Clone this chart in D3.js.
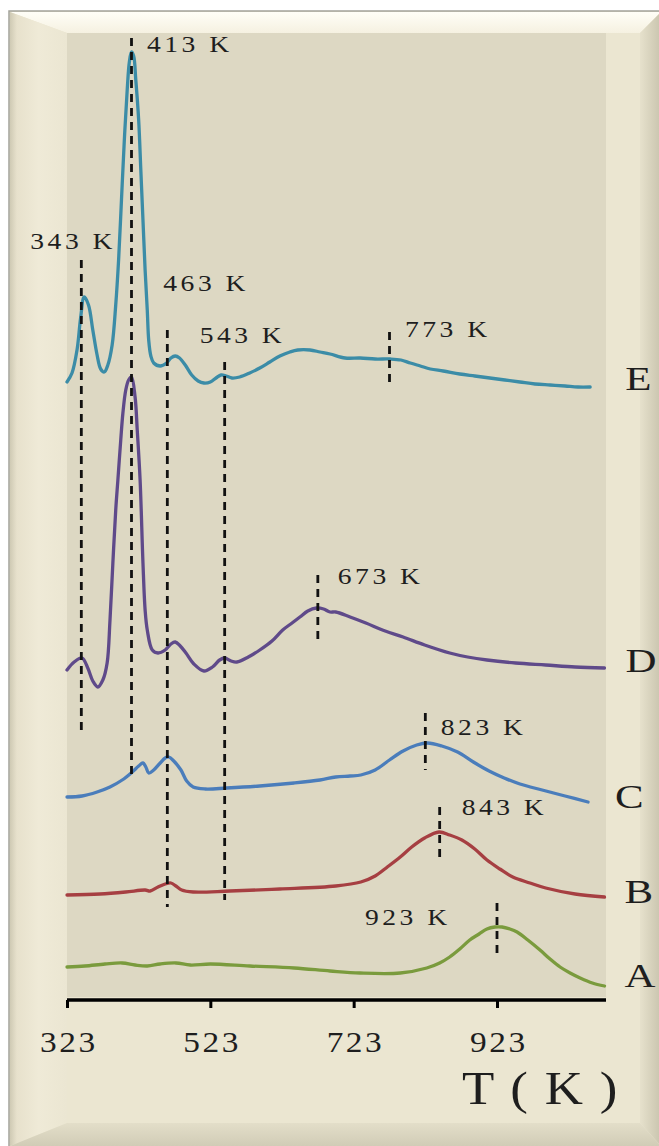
<!DOCTYPE html>
<html>
<head>
<meta charset="utf-8">
<script src="https://cdn.jsdelivr.net/npm/d3@7/dist/d3.min.js"></script>
<style>
  html, body { margin: 0; padding: 0; background: #ffffff; }
  svg { display: block; }
</style>
</head>
<body>
<svg id="chart" width="659" height="1146"></svg>
<script>
// TPD profiles of samples A–E, stacked with vertical offsets (signal in a.u.)
const xTicks = [323, 523, 723, 923];

const seriesA = [[323,1.65],[348,1.7],[376,1.8],[400,1.85],[418,1.75],[435,1.7],[453,1.8],[475,1.85],[495,1.75],[523,1.8],[578,1.7],[640,1.6],[690,1.45],[732,1.35],[788,1.35],[825,1.6],[843,1.85],[857,2.15],[871,2.55],[885,3.0],[898,3.3],[909,3.55],[920,3.65],[930,3.65],[941,3.55],[951,3.4],[966,3.0],[983,2.5],[997,2.05],[1011,1.65],[1025,1.35],[1039,1.1],[1056,0.85],[1073,0.7]];

const seriesB = [[323,5.25],[369,5.3],[405,5.4],[432,5.5],[439,5.45],[450,5.65],[460,5.8],[468,5.85],[475,5.7],[483,5.5],[499,5.4],[550,5.45],[620,5.55],[698,5.7],[733,5.9],[753,6.2],[770,6.65],[788,7.15],[804,7.65],[822,8.1],[842,8.4],[857,8.25],[874,8.0],[892,7.55],[909,7.0],[927,6.55],[945,6.15],[969,5.85],[991,5.6],[1032,5.3],[1073,5.15]];

const seriesC = [[323,10.15],[344,10.2],[365,10.4],[383,10.65],[400,11.0],[414,11.4],[423,11.7],[429,11.85],[433,11.65],[437,11.35],[444,11.5],[453,11.85],[460,12.1],[465,12.15],[472,11.95],[482,11.5],[490,10.95],[499,10.65],[516,10.55],[546,10.6],[592,10.7],[640,10.85],[676,11.0],[698,11.15],[718,11.2],[733,11.25],[753,11.5],[773,12.0],[792,12.45],[811,12.75],[826,12.85],[846,12.7],[868,12.4],[890,11.9],[912,11.45],[933,11.1],[955,10.8],[986,10.5],[1018,10.2],[1050,9.9]];

const seriesD = [[323,16.5],[333,16.9],[344,17.1],[352,16.6],[359,15.95],[366,15.65],[373,16.0],[379,16.85],[383,19.0],[387,21.85],[391,24.5],[394,26.0],[398,28.0],[401,29.35],[405,30.5],[409,31.0],[413,31.15],[418,30.15],[421,28.5],[425,26.0],[429,21.85],[432,19.5],[435,18.5],[442,17.5],[450,17.35],[460,17.5],[468,17.8],[474,17.9],[481,17.7],[489,17.35],[500,16.8],[514,16.45],[526,16.65],[536,17.0],[543,17.1],[552,16.95],[560,16.9],[576,17.15],[592,17.5],[609,17.95],[624,18.5],[637,18.85],[648,19.15],[659,19.45],[671,19.6],[681,19.55],[690,19.4],[698,19.4],[718,19.15],[740,18.85],[767,18.45],[792,18.15],[822,17.75],[857,17.35],[882,17.15],[909,17.0],[949,16.85],[991,16.75],[1032,16.65],[1073,16.6]];

const seriesE = [[323,30.9],[330,31.35],[337,32.5],[342,34.1],[347,35.15],[353,34.75],[359,33.5],[365,32.25],[370,31.55],[375,31.4],[380,31.75],[386,32.75],[391,34.75],[395,37.0],[399,40.0],[403,43.0],[407,45.5],[410,46.9],[413,47.4],[416,47.2],[419,46.0],[423,44.0],[426,41.5],[429,39.0],[432,36.5],[435,34.5],[437,33.0],[440,32.2],[444,31.85],[453,31.7],[462,31.85],[468,32.1],[474,32.2],[480,32.1],[488,31.75],[497,31.25],[506,30.95],[514,30.85],[523,30.9],[531,31.1],[538,31.25],[545,31.2],[553,31.1],[564,31.15],[578,31.35],[592,31.6],[606,31.9],[620,32.2],[634,32.4],[645,32.5],[662,32.5],[676,32.4],[690,32.3],[711,32.1],[732,32.1],[753,32.05],[774,32.05],[789,32.0],[802,31.85],[816,31.7],[830,31.55],[848,31.45],[871,31.3],[892,31.2],[913,31.1],[934,31.0],[955,30.9],[976,30.8],[997,30.75],[1018,30.7],[1036,30.65],[1053,30.65]];

const seriesNames = ["A", "B", "C", "D", "E"];

// Peak temperatures (K) marked by dashed lines, with the signal span each line covers
const peakTemps  = [343, 413, 463, 543, 773, 673, 823, 843, 923];
const peakTop    = [37.0, 48.1, 33.5, 31.9, 33.4, 21.25, 14.35, 9.65, 4.85];
const peakBottom = [13.35, 11.1, 4.65, 5.0, 30.65, 17.85, 11.5, 7.0, 2.25];

const seriesData = { A: seriesA, B: seriesB, C: seriesC, D: seriesD, E: seriesE };
const colors = { A: "#7a9b3d", B: "#a63f42", C: "#4a7dbb", D: "#5f4a8a", E: "#3b8ca7" };

const svg = d3.select("#chart");
const defs = svg.append("defs");

function gradient(id, x2, y2, stops) {
  const g = defs.append("linearGradient").attr("id", id)
    .attr("x1", 0).attr("y1", 0).attr("x2", x2).attr("y2", y2);
  stops.forEach(([o, c]) => g.append("stop").attr("offset", o).attr("stop-color", c));
}
gradient("gTop", 0, 1, [[0, "#fffef7"], [1, "#f5f1e1"]]);
gradient("gLeft", 1, 0, [[0, "#cfcab4"], [0.12, "#e7e1cc"], [0.5, "#efead7"], [1, "#ebe6d2"]]);
gradient("gRight", 1, 0, [[0, "#e6e1cc"], [1, "#c9c4ae"]]);
gradient("gBottom", 0, 1, [[0, "#e3dec9"], [1, "#d1ccb6"]]);

// Beveled frame
const frame = svg.append("g");
frame.append("rect").attr("x", 9).attr("y", 11).attr("width", 660).attr("height", 1150)
  .attr("fill", "#ebe6d1").attr("stroke", "#a3a39b").attr("stroke-width", 1.5);
const poly = (pts, fill) => frame.append("polygon").attr("points", pts.map(p => p.join(",")).join(" ")).attr("fill", fill);
poly([[10,12],[661,12],[640,33],[67,33]], "url(#gTop)");
poly([[10,12],[67,33],[67,1123],[10,1146]], "url(#gLeft)");
poly([[640,33],[661,12],[661,1146],[640,1123]], "url(#gRight)");
poly([[10,1146],[67,1123],[640,1123],[661,1146]], "url(#gBottom)");

// Plot panel
const panel = { left: 67, right: 606, top: 33, bottom: 997 };
svg.append("rect").attr("x", panel.left).attr("y", panel.top)
  .attr("width", panel.right - panel.left).attr("height", panel.bottom - panel.top)
  .attr("fill", "#ddd8c3");

const x = d3.scaleLinear().domain([323, 1073]).range([67, 604.5]);
const y = d3.scaleLinear().domain([0, 50]).range([1000, 0]);

const serif = "'Liberation Serif', 'Times New Roman', serif";
function stretchedText(g, px, py, str, size, sx, spacing, anchor) {
  return g.append("text")
    .attr("transform", `translate(${px},${py}) scale(${sx},1)`)
    .attr("text-anchor", anchor || "start")
    .attr("font-family", serif)
    .attr("font-size", size)
    .attr("letter-spacing", spacing || 0)
    .attr("fill", "#1e1e1e")
    .text(str);
}

// Traces
const line = d3.line().x(d => x(d[0])).y(d => y(d[1])).curve(d3.curveCatmullRom.alpha(0.5));
const traces = svg.append("g");
seriesNames.forEach(name => {
  traces.append("path").datum(seriesData[name])
    .attr("fill", "none")
    .attr("stroke", colors[name])
    .attr("stroke-width", 3.3)
    .attr("stroke-linejoin", "round")
    .attr("stroke-linecap", "round")
    .attr("d", line);
});

// Series letters at the right end of each trace
const letterOffset = { A: [20, 1], B: [20, 6], C: [27, 6], D: [21, 4], E: [35, 3] };
seriesNames.forEach(name => {
  const last = seriesData[name][seriesData[name].length - 1];
  stretchedText(svg, x(last[0]) + letterOffset[name][0], y(last[1]) + letterOffset[name][1],
    name, 33, 1.3);
});

// Dashed peak markers and their labels
const labelOffset = {
  343: [-51, -11], 413: [15.5, 14], 463: [-4, -39], 543: [-25, -19],
  773: [15.5, 5], 673: [20, 9], 823: [15.5, 22], 843: [22, 8], 923: [-132, 22]
};
const markers = svg.append("g");
peakTemps.forEach((t, i) => {
  markers.append("line")
    .attr("x1", x(t)).attr("x2", x(t))
    .attr("y1", y(peakTop[i])).attr("y2", y(peakBottom[i]))
    .attr("stroke", "#111")
    .attr("stroke-width", 2.8)
    .attr("stroke-dasharray", "8,6");
  const [dx, dy] = labelOffset[t];
  stretchedText(markers, x(t) + dx, y(peakTop[i]) + dy, `${t} K`, 23, 1.2, 2.9);
});

// Temperature axis
const axis = d3.axisBottom(x).tickValues(xTicks).tickSize(8).tickSizeOuter(0).tickFormat(d3.format("d"));
const axisG = svg.append("g").attr("transform", `translate(0,${y(0)})`).call(axis);
axisG.select(".domain").attr("stroke", "#000").attr("stroke-width", 3.5)
  .attr("d", `M${panel.left},0H${panel.right}`);
axisG.selectAll(".tick line").attr("stroke", "#000").attr("stroke-width", 3);
axisG.selectAll(".tick text")
  .attr("y", null).attr("dy", null)
  .attr("transform", "translate(1.3,52) scale(1.15,1)")
  .attr("font-family", serif)
  .attr("font-size", 29)
  .attr("letter-spacing", 2.2)
  .attr("fill", "#1e1e1e");

stretchedText(svg, 462, 1104, "T ( K )", 46, 1.15, 1.6);
</script>
</body>
</html>
